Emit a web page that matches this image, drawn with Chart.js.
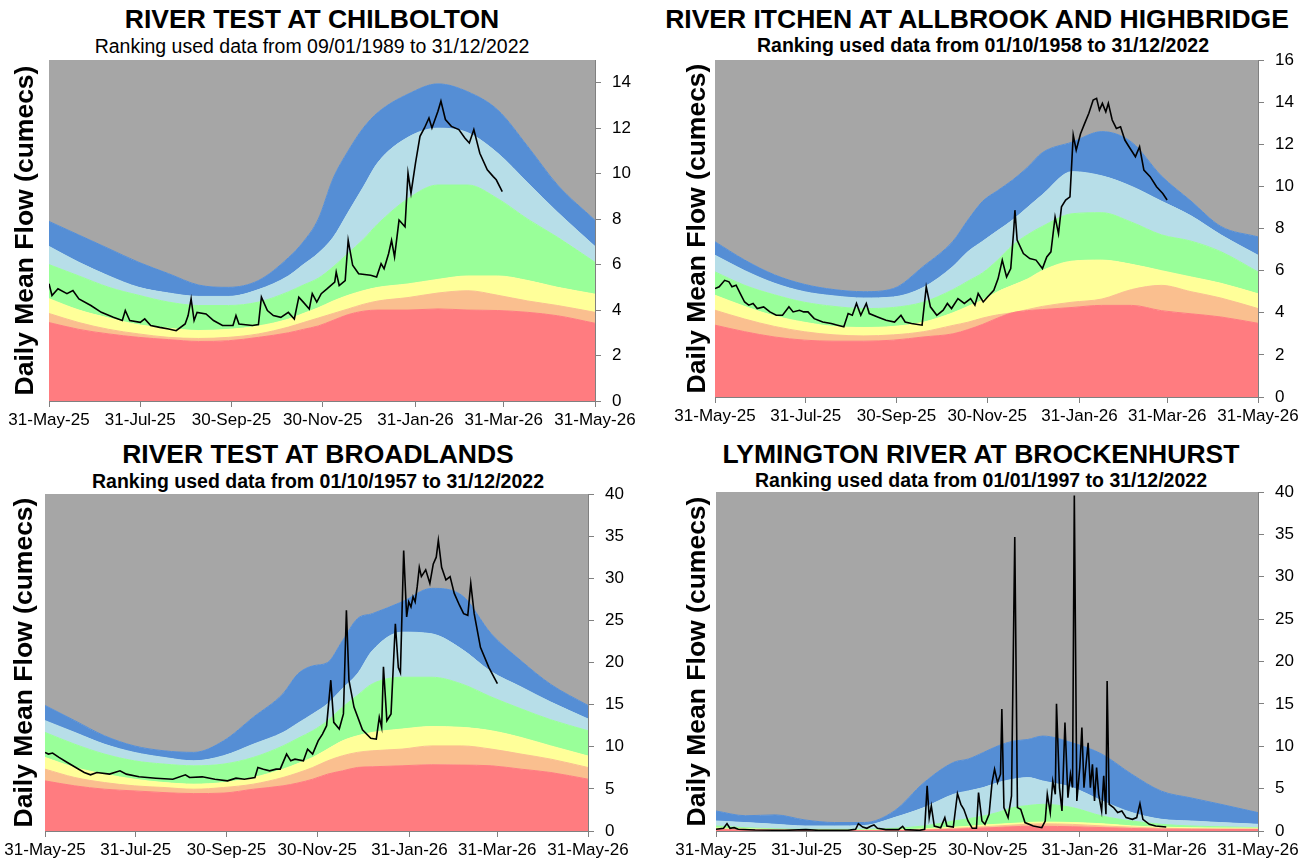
<!DOCTYPE html>
<html lang="en">
<head>
<meta charset="UTF-8">
<title>River flows - Hampshire</title>
<script src="https://cdn.jsdelivr.net/npm/chart.js"></script>
<style>
  body { margin: 0; background: #fff; font-family: 'Liberation Sans', Arial, sans-serif; }
  #page { position: relative; width: 1309px; height: 863px; overflow: hidden; }
  canvas { position: absolute; }
  .title { position: absolute; width: 800px; text-align: center; font-weight: bold;
           font-size: 26.5px; line-height: 26.5px; white-space: nowrap; color: #000; }
  .sub { position: absolute; width: 800px; text-align: center; font-weight: bold;
         font-size: 19.5px; line-height: 19.5px; white-space: nowrap; color: #000; }
  .sub.plain { font-weight: normal; }
</style>
</head>
<body>
<div id="page">
  <div class="title" style="left:-88px; top:5.6px;">RIVER TEST AT CHILBOLTON</div>
  <div class="sub plain" style="left:-88px; top:36.5px;">Ranking used data from 09/01/1989 to 31/12/2022</div>
  <div class="title" style="left:577px; top:5.6px;">RIVER ITCHEN AT ALLBROOK AND HIGHBRIDGE</div>
  <div class="sub" style="left:583px; top:35.5px;">Ranking used data from 01/10/1958 to 31/12/2022</div>
  <div class="title" style="left:-82px; top:440.6px;">RIVER TEST AT BROADLANDS</div>
  <div class="sub" style="left:-82px; top:471.5px;">Ranking used data from 01/10/1957 to 31/12/2022</div>
  <div class="title" style="left:581px; top:440.6px;">LYMINGTON RIVER AT BROCKENHURST</div>
  <div class="sub" style="left:581px; top:470.5px;">Ranking used data from 01/01/1997 to 31/12/2022</div>

  <canvas id="chil" width="650" height="432" style="left:0; top:0;"></canvas>
  <canvas id="itch" width="659" height="432" style="left:650px; top:0;"></canvas>
  <canvas id="broad" width="650" height="431" style="left:0; top:432px;"></canvas>
  <canvas id="lym" width="659" height="431" style="left:650px; top:432px;"></canvas>
</div>

<script>
// x values are days after 31-May-25
const tickDays = [0, 61, 122, 183, 245, 304, 365];
const tickLabels = ['31-May-25', '31-Jul-25', '30-Sep-25', '30-Nov-25', '31-Jan-26', '31-Mar-26', '31-May-26'];

// band boundaries (upper edge of each band) sampled on these days
const bandDays = [0, 20, 40, 60, 80, 100, 120, 140, 160, 170, 180, 190, 200, 210, 220, 240, 260, 280, 300, 320, 340, 365];

// River Test at Chilbolton
const chilRed = [3.45, 3.15, 2.95, 2.8, 2.7, 2.62, 2.65, 2.8, 3.0, 3.15, 3.3, 3.55, 3.8, 3.95, 4.0, 4.0, 4.05, 4.0, 3.98, 3.9, 3.75, 3.42];
const chilOrange = [3.85, 3.45, 3.15, 2.95, 2.8, 2.75, 2.8, 2.95, 3.25, 3.45, 3.65, 3.85, 4.05, 4.25, 4.4, 4.55, 4.75, 4.85, 4.65, 4.4, 4.2, 3.9];
const chilYellow = [4.5, 4.0, 3.65, 3.35, 3.2, 3.1, 3.15, 3.3, 3.6, 3.85, 4.1, 4.4, 4.65, 4.85, 5.0, 5.15, 5.35, 5.5, 5.5, 5.3, 5.0, 4.7];
const chilGreen = [6.0, 5.5, 5.0, 4.65, 4.35, 4.2, 4.2, 4.35, 4.8, 5.1, 5.4, 5.9, 6.5, 7.1, 7.8, 8.9, 9.5, 9.5, 8.9, 8.0, 7.2, 6.1];
const chilLightBlue = [6.8, 6.1, 5.5, 5.0, 4.75, 4.6, 4.6, 4.9, 5.5, 6.0, 6.5, 7.2, 8.3, 9.4, 10.5, 11.6, 12.0, 11.8, 10.9, 9.6, 8.3, 6.8];
const chilBlue = [7.9, 7.3, 6.7, 6.1, 5.6, 5.1, 5.0, 5.3, 6.3, 7.0, 8.0, 9.8, 11.0, 12.0, 12.7, 13.5, 13.95, 13.6, 12.8, 11.2, 9.5, 7.95];
const chilDays = [0, 2, 6, 12, 16, 20, 28, 35, 43, 49, 51, 54, 61, 64, 68, 74, 80, 85, 91, 93, 95, 97, 99, 105, 110, 116, 123, 125, 127, 136, 140, 142, 146, 150, 155, 160, 164, 167, 170, 174, 176, 179, 182, 186, 191, 192, 194, 198, 200, 203, 207, 215, 219, 222, 224, 227, 229, 231, 234, 238, 240, 242, 245, 248, 251, 254, 256, 260, 262, 265, 269, 274, 278, 281, 284, 288, 293, 297, 299, 303];
const chilFlow = [5.16, 4.64, 4.94, 4.72, 4.86, 4.49, 4.2, 3.9, 3.68, 3.54, 3.98, 3.54, 3.46, 3.61, 3.32, 3.24, 3.17, 3.09, 3.39, 3.76, 4.49, 3.54, 3.9, 3.83, 3.54, 3.32, 3.32, 3.76, 3.39, 3.32, 3.36, 4.57, 3.98, 3.76, 3.68, 3.9, 3.61, 4.57, 4.35, 4.05, 4.72, 4.35, 4.72, 4.94, 5.23, 5.67, 5.08, 5.3, 7.07, 5.97, 5.6, 5.53, 5.45, 6.04, 5.82, 6.48, 7.07, 6.34, 7.96, 7.66, 10.02, 9.14, 10.46, 11.64, 12.01, 12.45, 12.01, 12.75, 13.19, 12.38, 12.08, 11.94, 11.57, 11.35, 11.94, 10.9, 10.17, 9.87, 9.73, 9.21];

// River Itchen at Allbrook and Highbridge
const itchRed = [3.41, 3.1, 2.85, 2.7, 2.65, 2.65, 2.7, 2.85, 3.0, 3.2, 3.45, 3.75, 4.0, 4.1, 4.15, 4.25, 4.35, 4.35, 4.1, 3.95, 3.8, 3.5];
const itchOrange = [4.12, 3.7, 3.35, 3.1, 2.95, 2.9, 2.95, 3.1, 3.4, 3.55, 3.75, 3.9, 4.0, 4.15, 4.3, 4.5, 4.65, 5.1, 5.3, 5.0, 4.7, 4.2];
const itchYellow = [4.83, 4.3, 3.85, 3.55, 3.35, 3.3, 3.35, 3.55, 4.0, 4.3, 4.6, 5.0, 5.3, 5.6, 6.0, 6.45, 6.5, 6.3, 6.0, 5.7, 5.4, 4.9];
const itchGreen = [5.94, 5.3, 4.85, 4.5, 4.3, 4.2, 4.25, 4.5, 5.1, 5.5, 5.9, 6.5, 7.2, 7.7, 8.1, 8.7, 8.75, 8.3, 7.7, 7.4, 6.9, 5.94];
const itchLightBlue = [6.73, 6.0, 5.4, 5.0, 4.8, 4.7, 4.75, 5.2, 6.2, 6.9, 7.4, 7.9, 8.4, 9.0, 9.6, 10.7, 10.5, 10.0, 9.3, 8.6, 7.7, 6.73];
const itchBlue = [7.37, 6.5, 5.8, 5.35, 5.1, 5.0, 5.15, 6.2, 7.4, 8.4, 9.3, 9.8, 10.3, 10.9, 11.6, 12.1, 12.6, 12.1, 10.5, 9.3, 8.1, 7.6];
const itchDays = [0, 2.8, 6.5, 9.4, 11.4, 14.2, 17, 19.9, 22.7, 25.6, 28.4, 32.7, 36.9, 41.2, 45.4, 49.7, 52.5, 56.8, 59.6, 62.5, 66.7, 72.4, 78.1, 82.4, 86.6, 89.5, 92.3, 95.1, 98, 101.7, 103.7, 109.3, 115, 120.7, 125, 127.8, 132.1, 139.2, 142, 144.8, 149.1, 153.4, 156.2, 159, 163.3, 167.6, 171.8, 174.7, 176.9, 180.3, 183.2, 187.4, 190.3, 193.1, 196, 198.8, 200.8, 201.6, 203.1, 207.3, 211.6, 215.8, 220.1, 223, 225.8, 228.6, 230.9, 232.9, 235.7, 238.6, 240.8, 242.8, 245.7, 248.5, 251.3, 254.2, 256.5, 258.4, 260.4, 262.7, 264.4, 267, 269.8, 272.6, 275.5, 278.3, 282.6, 285.4, 288.3, 292.5, 296.8, 301, 303.9];
const itchFlow = [5.15, 5.23, 5.54, 5.47, 5.23, 5.31, 4.91, 4.51, 4.36, 4.44, 4.2, 4.28, 4.04, 3.88, 3.88, 4.28, 4.04, 4.12, 4.04, 4.04, 3.72, 3.56, 3.49, 3.41, 3.33, 3.96, 3.88, 4.44, 3.88, 4.44, 3.96, 3.8, 3.64, 3.56, 3.88, 3.56, 3.49, 3.41, 5.23, 4.28, 3.88, 4.12, 4.44, 4.2, 4.67, 4.44, 4.67, 4.36, 4.91, 4.51, 4.75, 5.07, 5.62, 6.5, 5.7, 6.1, 7.92, 8.87, 7.45, 6.81, 6.57, 6.5, 6.1, 6.65, 6.89, 8.55, 7.76, 9.03, 9.35, 9.5, 12.44, 11.72, 12.5, 12.99, 13.47, 14.1, 14.18, 13.62, 13.94, 13.54, 13.94, 13.15, 12.75, 12.83, 12.2, 11.88, 11.41, 11.88, 10.77, 10.46, 9.98, 9.66, 9.35];

// River Test at Broadlands
const broadRed = [5.95, 5.36, 4.96, 4.76, 4.56, 4.44, 4.5, 4.96, 5.36, 5.7, 6.15, 6.75, 7.14, 7.54, 7.62, 7.74, 7.86, 7.82, 7.74, 7.34, 6.94, 6.15];
const broadOrange = [7.34, 6.35, 5.75, 5.36, 5.16, 4.96, 5.16, 5.56, 6.35, 6.9, 7.54, 8.33, 8.93, 9.33, 9.52, 9.72, 10.1, 10.1, 9.72, 9.13, 8.53, 7.54];
const broadYellow = [8.73, 7.54, 6.75, 6.15, 5.75, 5.56, 5.75, 6.35, 7.34, 8.0, 8.73, 9.72, 10.7, 11.3, 11.7, 12.1, 12.4, 12.3, 11.9, 11.1, 10.1, 8.9];
const broadGreen = [11.7, 10.3, 9.13, 8.33, 7.94, 7.74, 7.94, 8.73, 10.1, 11.0, 11.9, 13.1, 14.7, 16.1, 17.46, 18.25, 18.25, 17.46, 15.9, 14.5, 13.2, 11.9];
const broadLightBlue = [13.1, 11.7, 10.3, 9.33, 8.73, 8.33, 8.93, 10.3, 11.7, 12.8, 13.9, 15.1, 16.9, 18.65, 21.4, 23.6, 23.4, 21.6, 18.9, 17.1, 15.3, 13.3];
const broadBlue = [14.9, 13.1, 11.3, 10.1, 9.52, 9.33, 10.7, 13.5, 16.3, 18.65, 19.6, 20.0, 22.6, 25.2, 25.8, 27.2, 28.8, 28.0, 23.4, 20.2, 17.4, 14.9];
const broadDays = [0, 2.3, 5.1, 9.4, 15, 20.7, 26.4, 30.6, 34.9, 43.4, 50.4, 54.7, 63.2, 74.5, 85.9, 94.4, 97.2, 105.7, 114.2, 122.7, 128.4, 134, 141.1, 143.1, 146.8, 151, 155.3, 158.1, 162.4, 165.2, 168, 173.7, 176.5, 179.9, 183.6, 186.5, 189.3, 192.1, 194.1, 197.8, 200.6, 202.6, 204.3, 207.7, 213.4, 219, 222.7, 224.7, 226.3, 227.5, 229.8, 232.6, 235.5, 237.5, 238.9, 241.1, 243.1, 244.5, 246, 247.4, 248.8, 250.2, 251.6, 253, 255.9, 257.3, 258.7, 261, 263, 264.4, 266.6, 269.5, 272.3, 275.1, 278.6, 281.4, 284.2, 286.2, 288.5, 292.7, 298.4, 304.1];
const broadFlow = [9.33, 9.13, 9.25, 8.73, 8.13, 7.54, 6.94, 6.67, 6.94, 6.75, 7.14, 6.75, 6.43, 6.27, 6.15, 6.67, 6.35, 6.43, 6.15, 5.95, 6.27, 6.15, 6.35, 7.54, 7.34, 7.14, 7.34, 7.34, 9.13, 8.33, 8.53, 8.33, 9.72, 9.13, 10.7, 11.5, 12.5, 17.9, 12.9, 12.1, 13.9, 26.2, 17.9, 14.7, 12.0, 11.0, 10.9, 13.5, 12.3, 19.5, 13.1, 13.9, 24.6, 19.4, 18.8, 33.3, 25.4, 27.2, 26.6, 27.8, 27.2, 29.0, 31.3, 30.2, 31.0, 30.2, 29.4, 31.7, 32.5, 34.5, 31.3, 29.8, 30.2, 28.2, 26.8, 25.8, 25.6, 29.4, 25.8, 21.8, 19.4, 17.5];

// Lymington River at Brockenhurst
const lymRed = [0.18, 0.12, 0.08, 0.05, 0.05, 0.05, 0.05, 0.1, 0.2, 0.28, 0.35, 0.42, 0.5, 0.55, 0.55, 0.5, 0.4, 0.3, 0.22, 0.2, 0.18, 0.17];
const lymOrange = [0.25, 0.18, 0.12, 0.08, 0.07, 0.07, 0.08, 0.15, 0.3, 0.4, 0.5, 0.6, 0.7, 0.8, 0.85, 0.78, 0.6, 0.45, 0.32, 0.27, 0.25, 0.24];
const lymYellow = [0.35, 0.25, 0.18, 0.12, 0.1, 0.1, 0.12, 0.25, 0.45, 0.55, 0.7, 0.8, 0.9, 1.0, 1.05, 1.0, 0.85, 0.6, 0.45, 0.38, 0.35, 0.33];
const lymGreen = [0.59, 0.39, 0.25, 0.2, 0.2, 0.2, 0.32, 0.59, 1.18, 1.45, 1.77, 2.2, 2.76, 3.0, 3.15, 2.76, 1.77, 1.18, 0.79, 0.59, 0.5, 0.39];
const lymLightBlue = [1.18, 0.99, 0.79, 0.59, 0.59, 0.65, 1.58, 2.76, 4.33, 4.73, 5.12, 5.71, 6.1, 6.3, 5.9, 5.12, 3.55, 2.17, 1.38, 1.18, 0.99, 0.79];
const lymBlue = [2.36, 1.8, 1.9, 1.3, 1.0, 1.0, 2.36, 5.7, 8.1, 8.5, 9.26, 10.05, 10.6, 10.8, 11.2, 10.4, 9.06, 6.7, 4.7, 3.9, 3.15, 2.17];
const lymDays = [0, 5.1, 7.4, 9.4, 12.2, 15, 26.4, 46.3, 60.5, 69, 88.8, 94, 95.9, 98.8, 101.6, 104.5, 106.4, 108.7, 114.4, 122.9, 125.7, 127.4, 137.1, 140.5, 142.2, 143.6, 145, 147, 151.3, 154.1, 155.5, 159.8, 162.6, 164.9, 166.9, 169.7, 172.6, 175.4, 176.8, 179.1, 181.1, 183.9, 185.9, 187.6, 189.6, 191.6, 192.5, 193.9, 196.7, 199, 201.2, 203, 205.2, 208.1, 213.7, 219.4, 221.7, 223.1, 225.1, 226.8, 228.5, 229.3, 231.3, 233, 235, 237, 238.7, 240.1, 241.3, 243, 245, 246.4, 247.8, 249.2, 250.6, 252.1, 253.5, 254.9, 256.3, 257.7, 259.7, 261.1, 262.6, 263.4, 264.8, 267.7, 270.5, 273.3, 276.2, 280.4, 283.3, 285.5, 287.5, 291.8, 296.1, 303.2];
const lymFlow = [0.2, 0.32, 0.87, 0.32, 0.39, 0.2, 0.12, 0.08, 0.16, 0.08, 0.08, 0.2, 0.87, 0.47, 0.32, 0.59, 0.71, 0.32, 0.16, 0.16, 0.55, 0.16, 0.08, 0.2, 5.32, 1.58, 2.96, 0.59, 0.39, 1.58, 0.59, 0.47, 4.41, 3.15, 2.56, 1.18, 0.32, 0.32, 4.53, 1.18, 0.79, 1.97, 5.71, 7.29, 5.71, 6.7, 14.4, 2.76, 1.58, 4.14, 34.7, 2.76, 2.56, 0.99, 0.59, 0.39, 1.18, 4.33, 2.17, 5.91, 4.33, 15.0, 5.12, 2.36, 12.8, 3.94, 6.7, 5.12, 39.6, 3.55, 7.49, 12.2, 5.12, 7.88, 10.4, 5.12, 7.88, 3.55, 7.49, 4.33, 2.36, 6.5, 1.97, 17.7, 3.15, 2.76, 2.17, 2.36, 1.58, 1.38, 1.58, 3.23, 1.38, 0.79, 0.59, 0.47];

const bandColors = ['#ff7c80', '#fabf8f', '#ffff99', '#99ff99', '#b7dee8', '#558ed5'];
const plotGrey = '#a6a6a6';
const axisGrey = '#808080';

Chart.defaults.font.family = "'Liberation Sans', Arial, sans-serif";
Chart.defaults.color = '#000';

function points(xs, ys) {
  return xs.map((x, i) => ({ x: x, y: ys[i] }));
}

function buildChart(id, p) {
  const datasets = p.bands.map((vals, i) => ({
    data: points(bandDays, vals),
    xAxisID: 'x', yAxisID: 'y',
    backgroundColor: bandColors[i],
    borderColor: bandColors[i],
    borderWidth: 1,
    pointRadius: 0,
    cubicInterpolationMode: 'monotone',
    fill: i === 0 ? 'origin' : i - 1
  }));
  // everything above the top band is grey
  datasets.push({
    data: points(bandDays, p.bands[5]),
    xAxisID: 'x', yAxisID: 'y',
    backgroundColor: plotGrey,
    borderWidth: 0,
    pointRadius: 0,
    cubicInterpolationMode: 'monotone',
    fill: 'end'
  });
  datasets.push({
    data: points(p.days, p.flow),
    xAxisID: 'x', yAxisID: 'y',
    borderColor: '#000',
    borderWidth: 1.6,
    pointRadius: 0,
    fill: false,
    order: -1
  });

  new Chart(document.getElementById(id), {
    type: 'line',
    data: { datasets: datasets },
    options: {
      responsive: false,
      animation: false,
      layout: { padding: { top: p.padTop, left: 0, right: 0, bottom: 0 } },
      plugins: { legend: { display: false }, tooltip: { enabled: false } },
      scales: {
        x: {
          type: 'linear', min: 0, max: 365, position: 'bottom',
          afterBuildTicks: a => { a.ticks = tickDays.map(v => ({ value: v })); },
          afterFit: s => { s.height = p.xH; },
          ticks: { autoSkip: false, maxRotation: 0, padding: 3, font: { size: 17 },
                   callback: (v, i) => tickLabels[i] },
          grid: { drawOnChartArea: false, drawTicks: true, tickLength: 6, color: axisGrey },
          border: { display: true, color: axisGrey }
        },
        y: {
          position: 'right', min: 0, max: p.yMax,
          afterFit: s => { s.width = p.rightW; },
          ticks: { stepSize: p.yStep, includeBounds: false, padding: 11, font: { size: 17 } },
          grid: { drawOnChartArea: false, tickLength: 6, color: axisGrey },
          border: { display: true, color: axisGrey }
        },
        yTitle: {
          position: 'left', display: true, min: 0, max: 1,
          afterFit: s => { s.width = p.leftW; },
          ticks: { display: false },
          grid: { display: false },
          border: { display: false },
          title: { display: true, text: 'Daily Mean Flow (cumecs)',
                   font: { size: 26.5, weight: 'bold' },
                   padding: { top: p.titlePad, bottom: 0 } }
        }
      }
    }
  });
}

buildChart('chil', {
  bands: [chilRed, chilOrange, chilYellow, chilGreen, chilLightBlue, chilBlue],
  days: chilDays, flow: chilFlow, yMax: 15, yStep: 2,
  padTop: 60, xH: 31, leftW: 49, rightW: 55, titlePad: 10
});
buildChart('itch', {
  bands: [itchRed, itchOrange, itchYellow, itchGreen, itchLightBlue, itchBlue],
  days: itchDays, flow: itchFlow, yMax: 16, yStep: 2,
  padTop: 60, xH: 35, leftW: 65, rightW: 51, titlePad: 32
});
buildChart('broad', {
  bands: [broadRed, broadOrange, broadYellow, broadGreen, broadLightBlue, broadBlue],
  days: broadDays, flow: broadFlow, yMax: 40, yStep: 5,
  padTop: 62, xH: 32, leftW: 45, rightW: 62, titlePad: 8.5
});
buildChart('lym', {
  bands: [lymRed, lymOrange, lymYellow, lymGreen, lymLightBlue, lymBlue],
  days: lymDays, flow: lymFlow, yMax: 40, yStep: 5,
  padTop: 60, xH: 32, leftW: 66, rightW: 51, titlePad: 32
});
</script>
</body>
</html>
